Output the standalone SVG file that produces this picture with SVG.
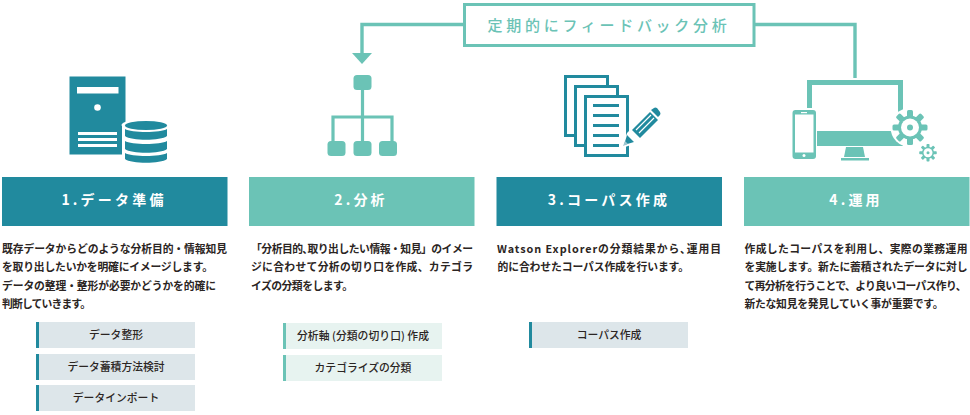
<svg xmlns="http://www.w3.org/2000/svg" width="970" height="415" viewBox="0 0 970 415">
<style>
text{font-family:"Noto Sans CJK JP","Liberation Sans",sans-serif}
.h{font-size:14px;font-weight:700;fill:#fff;text-anchor:middle;letter-spacing:3.2px}
.b{font-size:10.8px;font-weight:700;fill:#2b2523}
.t{font-size:10.8px;font-weight:500;fill:#2b2523;text-anchor:middle}
.d{fill:#218a9e}.g{fill:#6bc3b6}
.w{fill:#fff}
.sd{fill:#dde6ea}.sg{fill:#e7f3f0}
</style>
<defs>
<g id="gear"><circle r="12" class="g"/><g class="g"><rect x="-3" y="-17.500" width="6" height="35" rx="1.500"/><rect x="-3" y="-17.500" width="6" height="35" rx="1.500" transform="rotate(45)"/><rect x="-3" y="-17.500" width="6" height="35" rx="1.500" transform="rotate(90)"/><rect x="-3" y="-17.500" width="6" height="35" rx="1.500" transform="rotate(135)"/></g><circle r="9" class="w"/><circle r="3" class="g"/></g>
</defs>
<g id="connectors" fill="none" stroke="#6bc3b6" stroke-width="3.400">
<path d="M464 24.500H362V55"/>
<path d="M754 24.500H855V78"/>
<polygon points="352,53 372,53 362,64" fill="#6bc3b6" stroke="none"/>
</g>
<g id="feedback">
<rect x="464.500" y="4.500" width="289.500" height="41" fill="#fff" stroke="#6bc3b6" stroke-width="3"/>
<text x="609" y="30.500" font-size="15" font-weight="500" fill="#6bc3b6" text-anchor="middle" letter-spacing="3.700">定期的にフィードバック分析</text>
</g>
<g id="icon-server">
<rect x="69.500" y="76.500" width="56" height="78" class="d"/>
<rect x="77" y="87" width="41.500" height="6.500" class="w"/>
<circle cx="97.500" cy="107.500" r="3.300" class="w"/>
<rect x="78" y="132" width="39" height="3" class="w"/><rect x="78" y="138" width="39" height="3" class="w"/><rect x="78" y="144" width="39" height="3" class="w"/>
<path d="M122 124h46v36h-46z" class="w"/><ellipse cx="146" cy="125" rx="24.500" ry="6" class="w"/><ellipse cx="146" cy="160" rx="23" ry="6" class="w"/>
<ellipse cx="146" cy="125.500" rx="21" ry="4.500" class="d"/>
<path d="M125 129c6 4 36 4 42 0v7c-6 5-36 5-42 0zM125 141c6 4 36 4 42 0v8c-6 5-36 5-42 0zM125 153c6 4 36 4 42 0v6c-6 5-36 5-42 0z" class="d"/>
</g>
<g id="icon-tree">
<g fill="none" stroke="#6bc3b6" stroke-width="3.200"><path d="M362.500 85V147M333 147V117H392V147"/></g>
<rect x="353.500" y="75" width="18" height="15" rx="3.500" class="g"/>
<rect x="327.500" y="141" width="18" height="15" rx="3.500" class="g"/><rect x="353.500" y="141" width="18" height="15" rx="3.500" class="g"/><rect x="379" y="141" width="18" height="15" rx="3.500" class="g"/>
</g>
<g id="icon-docs">
<rect x="565.500" y="76.500" width="42" height="59" fill="#fff" stroke="#218a9e" stroke-width="3"/>
<rect x="575.500" y="86.500" width="42" height="59" fill="#fff" stroke="#218a9e" stroke-width="3"/>
<rect x="585.500" y="96.500" width="42" height="59" fill="#fff" stroke="#218a9e" stroke-width="3"/>
<g class="d"><rect x="593" y="104" width="26" height="3"/><rect x="593" y="114" width="26" height="3"/><rect x="593" y="124" width="26" height="3"/><rect x="593" y="134" width="26" height="3"/><rect x="593" y="144" width="26" height="3"/></g>
<path d="M622 148L627 133L652 108L662 118L637 143Z" fill="#fff"/>
<path d="M624 145L627 135L634 142ZM632 130L650 112L658 120L640 138Z" class="d"/>
<path d="M651 110L654 108Q655 107 657 108L660 112Q661 114 660 115L658 117Z" class="d"/>
<path d="M636 130L651 115M639 133L654 118" stroke="#fff" stroke-width="1.200"/>
<path d="M623 146L628 144L625 141Z" fill="#9cc7d0"/>
</g>
<g id="icon-monitor">
<path d="M809.500 108V82.500H900.500V120" fill="none" stroke="#6bc3b6" stroke-width="5"/>
<rect x="817" y="131" width="86" height="15" class="g"/>
<path d="M846 147H863L865 157H844Z" class="g"/><rect x="841" y="158" width="28" height="2.500" class="g"/>
<rect x="792.500" y="110" width="23.500" height="49" rx="3" class="g"/>
<rect x="795" y="114.500" width="18.500" height="38" class="w"/>
<rect x="801" y="112" width="6" height="1.200" class="w"/><circle cx="804" cy="155.500" r="1.500" class="w"/>
<circle cx="910" cy="127.500" r="19.500" class="w"/>
<use href="#gear" transform="translate(910 127.500)"/>
<use href="#gear" transform="translate(928 152.700) scale(.5)"/>
</g>
<g id="step1"><rect x="2" y="177" width="225.500" height="49" class="d"/><text class="h" x="114" y="205">1.データ準備</text>
<text class="b" x="2" y="253" textLength="225">既存データからどのような分析目的・情報知見</text>
<text class="b" x="2" y="271" textLength="211">を取り出したいかを明確にイメージします。</text>
<text class="b" x="2" y="289.500" textLength="214">データの整理・整形が必要かどうかを的確に</text>
<text class="b" x="2" y="307.500" textLength="89">判断していきます。</text>
<rect x="36" y="322" width="159" height="26" class="sd"/><rect x="36" y="322" width="3" height="26" class="d"/><text class="t" x="116" y="339">データ整形</text>
<rect x="36" y="354" width="159" height="26" class="sd"/><rect x="36" y="354" width="3" height="26" class="d"/><text class="t" x="116" y="371">データ蓄積方法検討</text>
<rect x="36" y="385" width="159" height="26" class="sd"/><rect x="36" y="385" width="3" height="26" class="d"/><text class="t" x="116" y="402">データインポート</text>
</g>
<g id="step2"><rect x="249" y="177" width="225.500" height="49" class="g"/><text class="h" x="361" y="205">2.分析</text>
<text class="b" x="251" y="253" textLength="222">「分析目的､取り出したい情報・知見」のイメー</text>
<text class="b" x="251" y="271" textLength="222">ジに合わせて分析の切り口を作成、カテゴラ</text>
<text class="b" x="251" y="289.500" textLength="102">イズの分類をします。</text>
<rect x="283" y="323" width="159" height="26" class="sg"/><rect x="283" y="323" width="3" height="26" class="g"/><text class="t" x="363" y="340" textLength="132">分析軸 (分類の切り口) 作成</text>
<rect x="283" y="355" width="159" height="26" class="sg"/><rect x="283" y="355" width="3" height="26" class="g"/><text class="t" x="363" y="372">カテゴライズの分類</text>
</g>
<g id="step3"><rect x="496.500" y="177" width="225.500" height="49" class="d"/><text class="h" x="609" y="205">3.コーパス作成</text>
<text class="b" x="497" y="253" textLength="224">Watson  Explorerの分類結果から､運用目</text>
<text class="b" x="497.500" y="271" textLength="191.500">的に合わせたコーパス作成を行います。</text>
<rect x="529" y="322" width="159" height="26" class="sd"/><rect x="529" y="322" width="3" height="26" class="d"/><text class="t" x="609" y="339">コーパス作成</text>
</g>
<g id="step4"><rect x="744" y="177" width="225.500" height="49" class="g"/><text class="h" x="856" y="205">4.運用</text>
<text class="b" x="744.500" y="253" textLength="223">作成したコーパスを利用し、実際の業務運用</text>
<text class="b" x="744.500" y="271" textLength="223">を実施します。新たに蓄積されたデータに対し</text>
<text class="b" x="744.500" y="289.500" textLength="222">て再分析を行うことで、より良いコーパス作り、</text>
<text class="b" x="744.500" y="307.500" textLength="199">新たな知見を発見していく事が重要です。</text>
</g>
</svg>
